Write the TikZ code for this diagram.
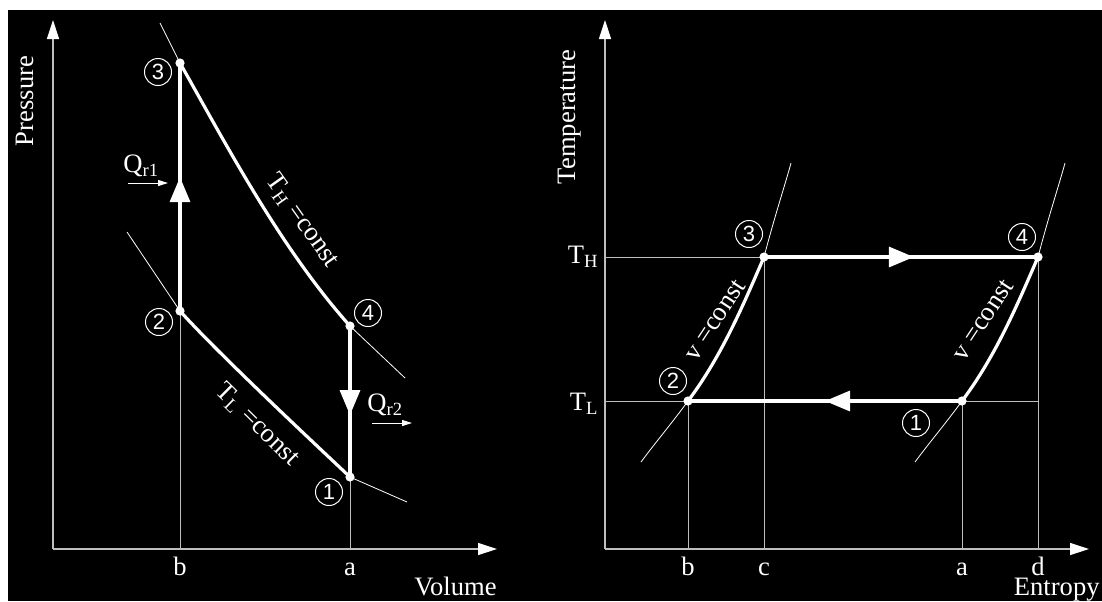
\documentclass[tikz,border=0pt]{standalone}
\usepackage{fontspec}
\setmainfont{Liberation Serif}
\newfontfamily\numfont{Liberation Sans}
\usepackage{tikz}
\usetikzlibrary{arrows.meta,decorations.markings}

\definecolor{guide}{RGB}{190,190,190}

\begin{document}
\begin{tikzpicture}[x=0.5pt, y=-0.5pt,
  lbl/.style={font=\fontsize{13.3}{16}\selectfont, text=white, inner sep=0pt},
  num/.style={circle, draw=white, line width=0.5pt, text=white, inner sep=0pt,
    minimum size=13.5pt, font=\numfont\fontsize{11}{11}\selectfont},
  guideline/.style={guide, line width=0.5pt},
  extline/.style={white, line width=0.4pt},
  axis/.style={guide, line width=0.6pt, -{Triangle[length=9.5pt,width=6pt,color=white]}},
  cycleline/.style={white, line width=1.6pt},
  dot/.style={circle, fill=white, inner sep=0pt, minimum size=4.6pt},
  heatarrow/.style={white, line width=0.5pt, -{Triangle[length=5pt,width=3pt]}},
  midarrow/.style={postaction={decorate}, decoration={markings,
    mark=at position #1 with {\arrow{Triangle[length=12.5pt,width=10pt]}}}}]
  \useasboundingbox (0,0) rectangle (1102,601);
  \fill[white] (0,0) rectangle (1102,601);
  \fill[black] (8,10) rectangle (1102,601);

  % ---------------- p-v diagram ----------------
  \coordinate (vo) at (53,549);
  \coordinate (vtop) at (53,20);
  \coordinate (vend) at (497,549);
  \coordinate (p3) at (180,63);
  \coordinate (p2) at (180,311);
  \coordinate (p4) at (350,326);
  \coordinate (p1) at (350,477);
  \coordinate (h3) at (160,23);
  \coordinate (h4) at (405,378);
  \coordinate (l2) at (127,232);
  \coordinate (l1) at (407,502);

  \draw[axis] (vo) -- (vtop);
  \draw[axis] (vo) -- (vend);
  \draw[guideline] (p2) -- (p2 |- vo);
  \draw[guideline] (p1) -- (p1 |- vo);

  % isotherms
  \draw[extline] (h3) -- (p3);
  \draw[extline] (p4) -- (h4);
  \draw[extline] (l2) -- (p2);
  \draw[extline] (p1) -- (l1);
  \draw[cycleline] (p3) .. controls (228,148) and (282,250) .. (p4);
  \draw[cycleline] (p2) .. controls (215,350) and (300,430) .. (p1);
  \draw[cycleline, midarrow=0.54] (p2) -- (p3);
  \draw[cycleline, midarrow=0.59] (p4) -- (p1);

  \foreach \p in {1,2,3,4} {
    \node[dot] (pd\p) at (p\p) {};
  }
  \node[num] (pn3) at (158,72) {3};
  \node[num] (pn2) at (159,322) {2};
  \node[num] (pn4) at (368,313) {4};
  \node[num] (pn1) at (329,492) {1};

  % heat
  \node[lbl, anchor=base west] (qr1) at (123,172) {Q\textsubscript{r1}};
  \coordinate (qr1a) at (128,183);
  \coordinate (qr1b) at (168,183);
  \draw[heatarrow] (qr1a) -- (qr1b);
  \node[lbl, anchor=base west] (qr2) at (367,411) {Q\textsubscript{r2}};
  \coordinate (qr2a) at (372,423);
  \coordinate (qr2b) at (412,423);
  \draw[heatarrow] (qr2a) -- (qr2b);

  \node[lbl, rotate=-54.6] (thl) at (302,221) {T\textsubscript{H} =const};
  \node[lbl, rotate=-44.6] (tll) at (257,425) {T\textsubscript{L} =const};

  \node[lbl, rotate=90] (pres) at (25,101) {Pressure};
  \node[lbl, anchor=base east] (vol) at (497,595) {Volume};
  \node[lbl, anchor=base] (vb) at (180,575) {b};
  \node[lbl, anchor=base] (va) at (350,575) {a};

  % ---------------- T-s diagram ----------------
  \coordinate (so) at (605,549);
  \coordinate (stop) at (605,20);
  \coordinate (send) at (1089,549);
  \coordinate (s3) at (764,257);
  \coordinate (s4) at (1038,257);
  \coordinate (s2) at (688,401);
  \coordinate (s1) at (962,401);
  \coordinate (u3) at (791,163);
  \coordinate (u2) at (641,462);
  \coordinate (u4) at (1065,163);
  \coordinate (u1) at (915,462);

  \draw[axis] (so) -- (stop);
  \draw[axis] (so) -- (send);
  \draw[guideline] (so |- s3) -- (s3);
  \draw[guideline] (so |- s2) -- (s4 |- s1);
  \draw[guideline] (s2) -- (s2 |- so);
  \draw[guideline] (s3) -- (s3 |- so);
  \draw[guideline] (s1) -- (s1 |- so);
  \draw[guideline] (s4) -- (s4 |- so);

  % isochores
  \draw[extline] (s3) .. controls (775,215) and (785,185) .. (u3);
  \draw[extline] (u2) .. controls (655,443) and (672,423) .. (s2);
  \draw[extline] (s4) .. controls (1049,215) and (1059,185) .. (u4);
  \draw[extline] (u1) .. controls (929,443) and (946,423) .. (s1);
  \draw[cycleline] (s2) .. controls (721,357) and (742,308) .. (s3);
  \draw[cycleline] (s1) .. controls (995,357) and (1016,308) .. (s4);
  \draw[cycleline, midarrow=0.547] (s3) -- (s4);
  \draw[cycleline, midarrow=0.5] (s1) -- (s2);

  \foreach \p in {1,2,3,4} {
    \node[dot] (sd\p) at (s\p) {};
  }
  \node[num] (sn3) at (749,234) {3};
  \node[num] (sn4) at (1022,237) {4};
  \node[num] (sn2) at (673,381) {2};
  \node[num] (sn1) at (916,423) {1};

  \node[lbl, rotate=56.5] (vc1) at (715,320) {v =const};
  \node[lbl, rotate=56.5] (vc2) at (983,320) {v =const};

  \node[lbl, anchor=base east] (th) at (599,263) {T\textsubscript{H}};
  \node[lbl, anchor=base east] (tl) at (599,410) {T\textsubscript{L}};
  \node[lbl, rotate=90] (temp) at (570,117) {Temperature};
  \node[lbl, anchor=base east] (ent) at (1100,595) {Entropy};
  \node[lbl, anchor=base] (sb) at (688,575) {b};
  \node[lbl, anchor=base] (sc) at (764,575) {c};
  \node[lbl, anchor=base] (sa) at (962,575) {a};
  \node[lbl, anchor=base] (sdl) at (1038,575) {d};
\end{tikzpicture}
\end{document}
